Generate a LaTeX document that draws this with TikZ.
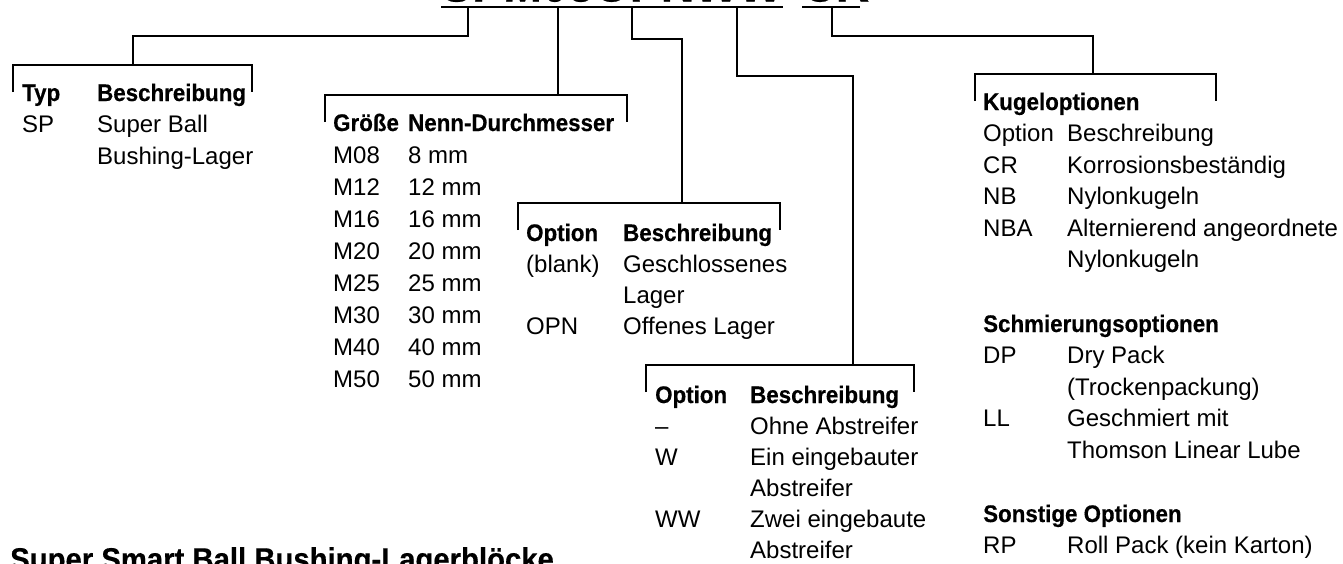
\documentclass[tikz,border=0pt]{standalone}
\usepackage{fontspec}
\setmainfont{Liberation Sans}[BoldFeatures={FakeStretch=0.93,FakeBold=0.4}]
\begin{document}
\begin{tikzpicture}[x=1pt,y=-1pt]
\tikzset{
  ln/.style={line width=2.4pt, line join=miter},
  txt/.style={anchor=base west, inner sep=0pt, font=\fontsize{24}{29}\selectfont},
  hd/.style={anchor=base west, inner sep=0pt, font=\fontsize{24}{29}\selectfont\bfseries},
  ttl/.style={anchor=base west, inner sep=0pt, font=\fontsize{50}{56}\selectfont\bfseries},
  sub/.style={anchor=base west, inner sep=0pt, font=\fontsize{31.5}{36}\selectfont\bfseries},
}
\useasboundingbox[fill=white] (0,0) rectangle (1343,563);
% title (cut off at the top)
\node[ttl] (code) at (441,1.5) {SPM08OPNWW};
\node[ttl] (cr) at (802,1.5) {CR};
\coordinate (u1a) at (441,7); \coordinate (u1b) at (783,7);
\coordinate (u2a) at (802,7); \coordinate (u2b) at (860,7);
\draw[ln] (u1a) -- (u1b);
\draw[ln] (u2a) -- (u2b);
% drop points
\coordinate (t1) at (468,7);
\coordinate (t2) at (558,7);
\coordinate (t3) at (632,7);
\coordinate (t4) at (737,7);
\coordinate (t5) at (832,7);
% bracket middles
\coordinate (m1) at (133,65);
\coordinate (m2) at (558,95);
\coordinate (m3) at (682,203);
\coordinate (m4) at (853,365);
\coordinate (m5) at (1093,74);
% bracket ends
\coordinate (l1) at (13,65);   \coordinate (r1) at (252,65);
\coordinate (l2) at (325,95);  \coordinate (r2) at (627,95);
\coordinate (l3) at (518,203); \coordinate (r3) at (780,203);
\coordinate (l4) at (646,365); \coordinate (r4) at (914,365);
\coordinate (l5) at (975,74);  \coordinate (r5) at (1216,74);
% connectors
\draw[ln] (t1) -- ++(0,29) -| (m1);
\draw[ln] (t2) -- (m2);
\draw[ln] (t3) -- ++(0,32) -| (m3);
\draw[ln] (t4) -- ++(0,69) -| (m4);
\draw[ln] (t5) -- ++(0,29) -| (m5);
% brackets
\foreach \k in {1,...,5}{
  \draw[ln] (l\k) ++(0,27) -- (l\k) -- (r\k) -- ++(0,27);
}
% block 1
\node[hd] (b1h1) at (22,101) {Typ};
\node[hd] (b1h2) at (97,101) {Beschreibung};
\node[txt] (b1a1) at (22,132.5) {SP};
\node[txt] (b1b1) at (97,132.5) {Super Ball};
\node[txt] (b1b2) at (97,164) {Bushing-Lager};
% block 2
\node[hd] (b2h1) at (333,131) {Größe};
\node[hd] (b2h2) at (408,131) {Nenn-Durchmesser};
\foreach \a/\b [count=\i] in {M08/8 mm,M12/12 mm,M16/16 mm,M20/20 mm,M25/25 mm,M30/30 mm,M40/40 mm,M50/50 mm}{
  \node[txt] (b2a\i) at (333,131+32*\i) {\a};
  \node[txt] (b2b\i) at (408,131+32*\i) {\b};
}
% block 3
\node[hd] (b3h1) at (526,241) {Option};
\node[hd] (b3h2) at (623,241) {Beschreibung};
\node[txt] (b3a1) at (526,272) {(blank)};
\node[txt] (b3b1) at (623,272) {Geschlossenes};
\node[txt] (b3b2) at (623,303) {Lager};
\node[txt] (b3a3) at (526,334) {OPN};
\node[txt] (b3b3) at (623,334) {Offenes Lager};
% block 4
\node[hd] (b4h1) at (655,403) {Option};
\node[hd] (b4h2) at (750,403) {Beschreibung};
\node[txt] (b4a1) at (655,434) {–};
\node[txt] (b4b1) at (750,434) {Ohne Abstreifer};
\node[txt] (b4a2) at (655,465) {W};
\node[txt] (b4b2) at (750,465) {Ein eingebauter};
\node[txt] (b4b3) at (750,496) {Abstreifer};
\node[txt] (b4a4) at (655,527) {WW};
\node[txt] (b4b4) at (750,527) {Zwei eingebaute};
\node[txt] (b4b5) at (750,558) {Abstreifer};
% block 5
\node[hd] (b5h) at (983,110) {Kugeloptionen};
\node[txt] (b5a0) at (983,141.5) {Option};
\node[txt] (b5b0) at (1067,141.5) {Beschreibung};
\node[txt] (b5a1) at (983,173) {CR};
\node[txt] (b5b1) at (1067,173) {Korrosionsbeständig};
\node[txt] (b5a2) at (983,204.5) {NB};
\node[txt] (b5b2) at (1067,204.5) {Nylonkugeln};
\node[txt] (b5a3) at (983,236) {NBA};
\node[txt] (b5b3) at (1067,236) {Alternierend angeordnete};
\node[txt] (b5b4) at (1067,267.5) {Nylonkugeln};
\node[hd] (b6h) at (983,332) {Schmierungsoptionen};
\node[txt] (b6a1) at (983,363.5) {DP};
\node[txt] (b6b1) at (1067,363.5) {Dry Pack};
\node[txt] (b6b2) at (1067,395) {(Trockenpackung)};
\node[txt] (b6a3) at (983,426.5) {LL};
\node[txt] (b6b3) at (1067,426.5) {Geschmiert mit};
\node[txt] (b6b4) at (1067,458) {Thomson Linear Lube};
\node[hd] (b7h) at (983,522) {Sonstige Optionen};
\node[txt] (b7a1) at (983,553.5) {RP};
\node[txt] (b7b1) at (1067,553.5) {Roll Pack (kein Karton)};
% bottom heading (cut off)
\node[sub] (foot) at (10,570) {Super Smart Ball Bushing-Lagerblöcke};
\end{tikzpicture}
\end{document}
